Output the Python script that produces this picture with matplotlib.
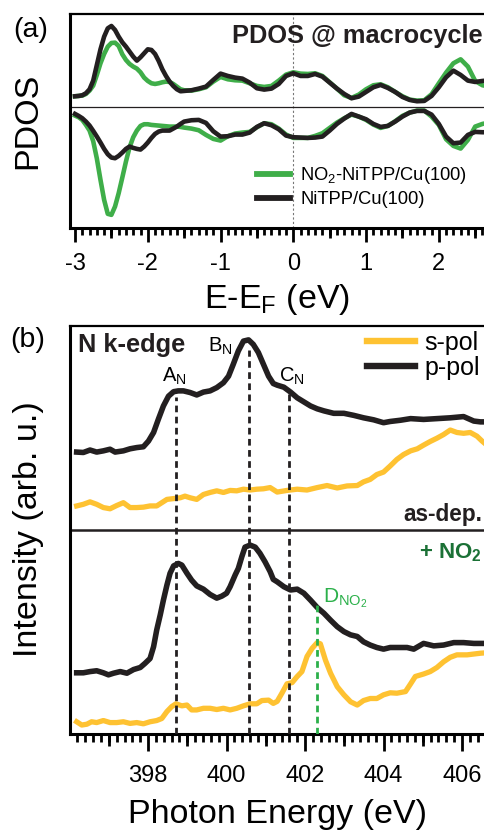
import numpy as np
import matplotlib
matplotlib.use('Agg')
import matplotlib.pyplot as plt
from matplotlib.ticker import MultipleLocator, FixedLocator

plt.rcParams['font.family'] = ['Liberation Sans', 'DejaVu Sans']
plt.rcParams['mathtext.fontset'] = 'custom'
plt.rcParams['mathtext.rm'] = 'Liberation Sans'
plt.rcParams['mathtext.it'] = 'Liberation Sans:italic'
plt.rcParams['mathtext.bf'] = 'Liberation Sans:bold'
plt.rcParams['axes.unicode_minus'] = False

# ---------------- data: panel (a) PDOS ----------------
E_pdos = [-3.0, -2.95, -2.9, -2.85, -2.8, -2.75, -2.7, -2.65, -2.6, -2.55, -2.5, -2.45,
          -2.4, -2.35, -2.3, -2.25, -2.2, -2.15, -2.1, -2.05, -2.0, -1.95, -1.9, -1.85,
          -1.8, -1.75, -1.7, -1.65, -1.6, -1.55, -1.5, -1.4, -1.3, -1.2, -1.1, -1.0,
          -0.9, -0.8, -0.7, -0.6, -0.5, -0.4, -0.3, -0.2, -0.1, 0.0, 0.1, 0.2, 0.3, 0.4,
          0.5, 0.6, 0.7, 0.8, 0.9, 1.0, 1.1, 1.2, 1.3, 1.4, 1.5, 1.6, 1.7, 1.8, 1.9, 2.0,
          2.1, 2.2, 2.3, 2.4, 2.5, 2.6, 2.65]
ni_up = [0.31, 0.32, 0.34, 0.40, 0.52, 0.78, 1.25, 1.72, 2.10, 2.35, 2.42, 2.30,
         2.10, 1.93, 1.80, 1.65, 1.50, 1.38, 1.48, 1.60, 1.72, 1.70, 1.58, 1.37,
         1.12, 0.92, 0.75, 0.62, 0.52, 0.46, 0.47, 0.49, 0.54, 0.60, 0.80, 0.99,
         0.92, 0.87, 0.84, 0.72, 0.55, 0.51, 0.54, 0.68, 0.92, 1.00, 0.92, 0.92, 0.98, 0.90,
         0.72, 0.54, 0.38, 0.25, 0.30, 0.44, 0.58, 0.65, 0.56, 0.44, 0.29, 0.20, 0.16, 0.17, 0.32, 0.58,
         0.88, 1.08, 0.95, 0.78, 0.74, 0.77, 0.78]
no2_up = [0.31, 0.32, 0.33, 0.38, 0.48, 0.63, 0.95, 1.30, 1.58, 1.80, 1.91, 1.92,
          1.82, 1.57, 1.40, 1.28, 1.20, 1.14, 1.03, 0.87, 0.77, 0.70, 0.68, 0.70,
          0.73, 0.75, 0.74, 0.68, 0.60, 0.52, 0.49, 0.48, 0.52, 0.58, 0.75, 0.89,
          0.82, 0.79, 0.78, 0.70, 0.62, 0.59, 0.62, 0.78, 0.96, 1.03, 0.99, 0.98, 1.00, 0.92,
          0.73, 0.54, 0.34, 0.26, 0.36, 0.52, 0.64, 0.67, 0.58, 0.44, 0.31, 0.21, 0.18, 0.19, 0.37, 0.70,
          1.02, 1.30, 1.42, 1.20, 0.77, 0.64, 0.62]
ni_dn = [-0.22, -0.28, -0.35, -0.45, -0.57, -0.73, -0.90, -1.08, -1.27, -1.43, -1.53, -1.55,
         -1.48, -1.38, -1.27, -1.20, -1.24, -1.27, -1.29, -1.20, -1.08, -0.94, -0.82, -0.75,
         -0.72, -0.72, -0.72, -0.66, -0.60, -0.52, -0.45, -0.41, -0.40, -0.49, -0.74, -0.90,
         -0.89, -0.84, -0.84, -0.78, -0.61, -0.50, -0.56, -0.68, -0.87, -0.92, -0.93, -0.94, -0.93, -0.90,
         -0.72, -0.52, -0.36, -0.22, -0.30, -0.38, -0.52, -0.61, -0.58, -0.45, -0.30, -0.18, -0.13, -0.13, -0.24, -0.52,
         -0.90, -1.10, -1.08, -0.85, -0.76, -0.77, -0.77]
no2_dn = [-0.27, -0.32, -0.40, -0.55, -0.72, -1.04, -1.56, -2.20, -2.80, -3.22, -3.25, -3.00,
          -2.60, -2.13, -1.65, -1.22, -0.92, -0.72, -0.58, -0.53, -0.53, -0.55, -0.56, -0.57,
          -0.58, -0.59, -0.60, -0.60, -0.60, -0.61, -0.63, -0.66, -0.71, -0.85, -0.97, -1.02,
          -0.89, -0.81, -0.78, -0.76, -0.62, -0.50, -0.53, -0.66, -0.84, -0.94, -0.94, -0.94, -0.88, -0.80,
          -0.64, -0.48, -0.35, -0.24, -0.30, -0.40, -0.54, -0.64, -0.58, -0.44, -0.28, -0.18, -0.12, -0.12, -0.30, -0.55,
          -0.98, -1.18, -1.26, -1.00, -0.60, -0.52, -0.50]
pdos_labels = ['NO$_\\mathregular{2}$-NiTPP/Cu(100)', 'NiTPP/Cu(100)']
pdos_ticks = [-3, -2, -1, 0, 1, 2]

# ---------------- data: panel (b) N K-edge NEXAFS ----------------
E_p_dep = [396.18, 396.35, 396.52, 396.69, 396.86, 397.03, 397.16, 397.37, 397.54, 397.71,
           397.88, 398.01, 398.14, 398.26, 398.39, 398.52, 398.65, 398.77, 398.90, 399.07,
           399.24, 399.41, 399.58, 399.75, 399.92, 400.05, 400.17, 400.30, 400.43, 400.56,
           400.68, 400.81, 400.94, 401.07, 401.19, 401.29, 401.46, 401.63, 401.80, 401.97,
           402.14, 402.31, 402.48, 402.73, 402.99, 403.24, 403.49, 403.75, 404.00, 404.17,
           404.43, 404.69, 405.02, 405.36, 405.70, 406.04, 406.30, 406.47, 406.61]
p_dep = [69.1, 69.0, 69.6, 69.1, 69.4, 69.8, 69.1, 69.4, 69.9, 70.2,
         70.4, 71.8, 73.9, 77.1, 80.4, 82.8, 83.9, 84.1, 84.1, 83.7,
         83.1, 83.8, 84.1, 84.9, 86.1, 87.7, 90.6, 93.9, 96.3, 96.6,
         95.5, 93.5, 90.6, 87.7, 85.9, 85.5, 85.0, 83.8, 82.4, 81.4,
         80.4, 79.7, 79.2, 78.6, 78.6, 78.1, 77.5, 77.0, 76.3, 76.6,
         76.9, 77.3, 77.1, 77.3, 77.5, 77.8, 76.7, 76.5, 76.5]
E_s_dep = [396.18, 396.35, 396.52, 396.69, 396.86, 397.03, 397.20, 397.37, 397.54, 397.71,
           397.88, 398.05, 398.22, 398.35, 398.48, 398.65, 398.82, 398.94, 399.07, 399.24,
           399.41, 399.58, 399.75, 399.92, 400.09, 400.26, 400.43, 400.60, 400.77, 400.94,
           401.11, 401.29, 401.54, 401.80, 402.05, 402.31, 402.56, 402.82, 403.07, 403.33,
           403.49, 403.66, 403.83, 404.00, 404.17, 404.34, 404.51, 404.69, 404.86, 405.02,
           405.19, 405.36, 405.53, 405.70, 405.87, 406.04, 406.21, 406.38, 406.51, 406.61]
s_dep = [55.9, 56.3, 56.9, 56.3, 55.5, 55.2, 56.0, 56.7, 55.5, 55.5,
         55.6, 55.9, 55.9, 56.7, 57.5, 57.7, 57.9, 58.3, 57.9, 57.5,
         58.7, 59.2, 59.6, 59.2, 59.7, 59.6, 60.0, 59.8, 60.0, 60.1,
         60.4, 59.3, 59.7, 60.0, 59.8, 60.4, 60.9, 60.3, 60.8, 60.9,
         61.8, 62.4, 63.6, 64.2, 65.7, 67.3, 68.5, 69.4, 69.9, 70.8,
         71.7, 72.5, 73.4, 74.5, 73.9, 73.7, 73.9, 73.0, 71.8, 71.0]
E_p_no2 = [396.18, 396.35, 396.52, 396.69, 396.86, 396.99, 397.12, 397.29, 397.46, 397.63,
           397.80, 397.92, 398.05, 398.14, 398.22, 398.31, 398.39, 398.48, 398.56, 398.65,
           398.77, 398.86, 398.99, 399.11, 399.24, 399.41, 399.58, 399.75, 399.88, 400.00,
           400.09, 400.22, 400.30, 400.39, 400.47, 400.60, 400.73, 400.85, 400.98, 401.11,
           401.19, 401.29, 401.46, 401.63, 401.80, 401.97, 402.14, 402.31, 402.48, 402.65,
           402.82, 402.99, 403.16, 403.33, 403.49, 403.66, 403.83, 404.00, 404.17, 404.34,
           404.60, 404.77, 405.02, 405.28, 405.53, 405.79, 406.04, 406.30, 406.61]
p_no2 = [15.0, 15.0, 15.3, 15.5, 15.0, 14.5, 14.9, 15.3, 14.9, 15.8,
         16.3, 17.3, 18.5, 21.4, 25.5, 29.2, 32.8, 36.5, 39.4, 41.2,
         41.8, 41.4, 39.4, 37.7, 36.3, 35.5, 34.2, 33.3, 33.8, 34.5,
         36.1, 39.0, 40.6, 43.5, 45.8, 46.3, 45.8, 44.3, 42.2, 39.8,
         37.9, 37.3, 36.1, 35.3, 35.5, 34.5, 32.8, 31.0, 29.6, 27.9,
         26.3, 25.1, 24.3, 23.9, 22.6, 21.8, 21.2, 20.8, 21.2, 21.2,
         21.2, 20.8, 22.2, 21.6, 21.8, 22.4, 22.4, 22.2, 22.2]
E_s_no2 = [396.18, 396.31, 396.44, 396.56, 396.69, 396.86, 397.03, 397.20, 397.37, 397.54,
           397.71, 397.88, 398.05, 398.22, 398.35, 398.48, 398.60, 398.71, 398.86, 398.99,
           399.11, 399.24, 399.41, 399.58, 399.75, 399.92, 400.09, 400.26, 400.43, 400.60,
           400.77, 400.90, 401.07, 401.19, 401.29, 401.41, 401.54, 401.67, 401.80, 401.92,
           402.05, 402.18, 402.31, 402.39, 402.52, 402.65, 402.82, 402.99, 403.16, 403.33,
           403.49, 403.66, 403.83, 404.00, 404.17, 404.34, 404.56, 404.69, 404.81, 405.02,
           405.19, 405.36, 405.53, 405.70, 405.87, 406.13, 406.47, 406.61]
s_no2 = [3.0, 2.2, 2.4, 3.0, 2.8, 3.3, 2.8, 2.8, 3.0, 2.6,
         2.8, 2.5, 3.0, 3.3, 3.8, 5.5, 6.7, 7.4, 6.9, 7.1,
         5.9, 5.9, 6.3, 6.3, 6.0, 6.3, 5.9, 6.3, 6.9, 7.4,
         7.4, 8.2, 8.3, 7.5, 8.0, 10.0, 12.3, 12.6, 14.1, 15.3,
         19.0, 21.0, 22.4, 22.1, 18.1, 14.9, 11.6, 9.6, 7.9, 7.1,
         8.2, 8.7, 8.7, 9.6, 10.1, 10.0, 10.4, 12.3, 14.1, 14.7,
         15.3, 16.3, 17.7, 18.8, 19.4, 19.4, 19.8, 19.9]
peak_E = [398.71, 400.57, 401.60]
peak_top = [82.5, 94.0, 84.0]
peak_labels = ['A$_\\mathregular{N}$', 'B$_\\mathregular{N}$', 'C$_\\mathregular{N}$']
d_E = 402.31
d_top = 31.5
nexafs_ticks = [398, 400, 402, 404, 406]

GREEN = '#3fae49'
BLACK = '#231f20'
YELLOW = '#fec232'
DKGREEN = '#1b7136'
DGREEN = '#2bb04a'

W, H = 484, 830
fig = plt.figure(figsize=(W / 100, H / 100), dpi=100)


def fx(px):
    return px / W


def fy(py):
    return 1 - py / H


axA = fig.add_axes([fx(70), fy(227.5), 1 - fx(70), (227.5 - 14) / H])
axB = fig.add_axes([fx(70), fy(734), 1 - fx(70), (734 - 326) / H])

for ax in (axA, axB):
    ax.spines['right'].set_visible(False)
    ax.spines['top'].set_linewidth(1.6)
    ax.spines['left'].set_linewidth(2.2)
    ax.spines['bottom'].set_linewidth(2.2)
    ax.tick_params(axis='y', left=False, labelleft=False)

# ---- panel (a)
axA.axhline(0, color=BLACK, lw=0.9, zorder=1)
axA.axvline(0, color='#777777', lw=0.8, ls=(0, (2, 2)), zorder=0.5)
axA.plot(E_pdos, no2_up, color=GREEN, lw=3.3, label=pdos_labels[0], zorder=2)
axA.plot(E_pdos, no2_dn, color=GREEN, lw=3.3, zorder=2)
axA.plot(E_pdos, ni_up, color=BLACK, lw=3.3, label=pdos_labels[1], zorder=3)
axA.plot(E_pdos, ni_dn, color=BLACK, lw=3.3, zorder=3)
axA.set_xlim(-3.069, 2.621)
axA.set_ylim(-3.63, 2.78)
axA.xaxis.set_major_locator(FixedLocator(pdos_ticks))
axA.xaxis.set_minor_locator(MultipleLocator(0.1))
axA.tick_params(axis='x', which='major', direction='out', length=10, width=2,
                pad=8.0, labelsize=17)
axA.tick_params(axis='x', which='minor', direction='out', length=5, width=2)
secA = axA.secondary_xaxis('bottom')
secA.set_xticks([-2.5, -1.5, -0.5, 0.5, 1.5, 2.5])
secA.tick_params(axis='x', direction='out', length=7.2, width=2, labelbottom=False)
secA.spines['bottom'].set_visible(False)

legA = axA.legend(loc='upper left', bbox_to_anchor=(fx(257), fy(165)),
                  bbox_transform=fig.transFigure, frameon=False, fontsize=13.2,
                  handlelength=1.8, handletextpad=0.55, labelspacing=0.3,
                  borderpad=0, borderaxespad=0)
for ln in legA.get_lines():
    ln.set_linewidth(4.2)

fig.text(fx(13), fy(30), '(a)', fontsize=20.5, ha='left', va='center')
fig.text(fx(483), fy(43), 'PDOS @ macrocycle', fontsize=18.3, fontweight='bold',
         ha='right', va='baseline', color=BLACK)
fig.text(fx(28), fy(121), 'PDOS', fontsize=24.5, rotation=90, ha='center', va='center')
fig.text(fx(277), fy(308), 'E-E$_\\mathregular{F}$ (eV)', fontsize=24.5, ha='center',
         va='baseline')

# ---- panel (b)
axB.axhline(50, color=BLACK, lw=1.8, zorder=1)
axB.plot(E_s_dep, s_dep, color=YELLOW, lw=3.8, label='s-pol', zorder=2)
axB.plot(E_p_dep, p_dep, color=BLACK, lw=4.0, label='p-pol', zorder=3)
axB.plot(E_s_no2, s_no2, color=YELLOW, lw=3.8, zorder=2)
axB.plot(E_p_no2, p_no2, color=BLACK, lw=4.0, zorder=3)
axB.vlines(peak_E, 0, peak_top, colors=BLACK, linestyles=(0, (2.4, 1.6)), lw=2.0, zorder=5)
axB.vlines([d_E], 0, [d_top], colors=DGREEN, linestyles=(0, (2.4, 1.6)), lw=2.0, zorder=5)
axB.set_xlim(396.01, 406.56)
axB.set_ylim(0, 100)
axB.xaxis.set_major_locator(FixedLocator(nexafs_ticks))
axB.xaxis.set_minor_locator(MultipleLocator(0.2))
axB.tick_params(axis='x', which='major', direction='out', length=12, width=2,
                pad=10.5, labelsize=17)
axB.tick_params(axis='x', which='minor', direction='out', length=5.8, width=2)
secB = axB.secondary_xaxis('bottom')
secB.set_xticks([397, 399, 401, 403, 405])
secB.tick_params(axis='x', direction='out', length=8.6, width=2, labelbottom=False)
secB.spines['bottom'].set_visible(False)

legB = axB.legend(loc='upper left', bbox_to_anchor=(fx(367), fy(331)),
                  bbox_transform=fig.transFigure, frameon=False, fontsize=18,
                  handlelength=1.9, handletextpad=0.4, labelspacing=0.05,
                  borderpad=0, borderaxespad=0)
for ln in legB.get_lines():
    ln.set_linewidth(4.6)

fig.text(fx(10), fy(340), '(b)', fontsize=20.5, ha='left', va='center')
fig.text(fx(78), fy(352), 'N k-edge', fontsize=18.3, fontweight='bold', ha='left',
         va='baseline', color=BLACK)
fig.text(fx(162), fy(382), peak_labels[0], fontsize=14.5, ha='left', va='baseline')
fig.text(fx(208), fy(352), peak_labels[1], fontsize=14.5, ha='left', va='baseline')
fig.text(fx(279), fy(382), peak_labels[2], fontsize=14.5, ha='left', va='baseline')
fig.text(fx(323), fy(602), 'D$_\\mathregular{NO_2}$', fontsize=15, ha='left',
         va='baseline', color=DGREEN)
fig.text(fx(482), fy(521), 'as-dep.', fontsize=16.3, fontweight='bold', ha='right',
         va='baseline', color=BLACK)
fig.text(fx(482), fy(558), '+ NO$_\\mathbf{2}$', fontsize=16, fontweight='bold',
         ha='right', va='baseline', color=DKGREEN)
fig.text(fx(29), fy(529), 'Intensity (arb. u.)', fontsize=24.5, rotation=90,
         ha='center', va='center')
fig.text(fx(278), fy(823), 'Photon Energy (eV)', fontsize=24.5, ha='center',
         va='baseline')

fig.savefig('out.png', dpi=100)
